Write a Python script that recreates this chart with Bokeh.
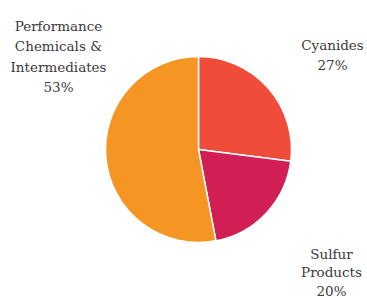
import numpy as np
from bokeh.plotting import figure
from bokeh.models import ColumnDataSource, Range1d, Label
from bokeh.embed import file_html
from bokeh.resources import INLINE

categories = ["Cyanides", "Sulfur Products", "Performance Chemicals & Intermediates"]
shares = [27, 20, 53]
colors = ["#EF4C3A", "#D11E55", "#F49524"]
label_lines = [["Cyanides", "27%"], ["Sulfur", "Products", "20%"],
               ["Performance", "Chemicals &", "Intermediates", "53%"]]

W, H = 367, 298
cx, cy, r = 198, 149, 93

vals = np.array(shares, dtype=float)
cum = np.concatenate([[0], np.cumsum(vals)]) / vals.sum() * 2 * np.pi
start = np.pi / 2 - cum[:-1]
end = np.pi / 2 - cum[1:]

src = ColumnDataSource(dict(cat=categories, start=start, end=end, color=colors))

p = figure(width=W, height=H, output_backend="svg", toolbar_location=None,
           x_range=Range1d(0, W), y_range=Range1d(0, H), min_border=0)
p.axis.visible = False
p.grid.visible = False
p.outline_line_color = None

p.wedge(x=cx, y=cy, radius=r, start_angle="start", end_angle="end", direction="clock",
        fill_color="color", line_color="white", line_width=1.5, source=src)

# label block anchors (layout)
anchors = [(332, 254, 20), (331, 45, 18.5), (58, 273, 20.5)]
for (ax, ay, lh), lines in zip(anchors, label_lines):
    for i, t in enumerate(lines):
        p.add_layout(Label(x=ax, y=ay - i * lh, text=t, text_align="center",
                           text_baseline="middle", text_font="DejaVu Serif",
                           text_font_size="13.5px", text_color="#3a3a3a"))

open("out.html", "w").write(file_html(p, INLINE))
